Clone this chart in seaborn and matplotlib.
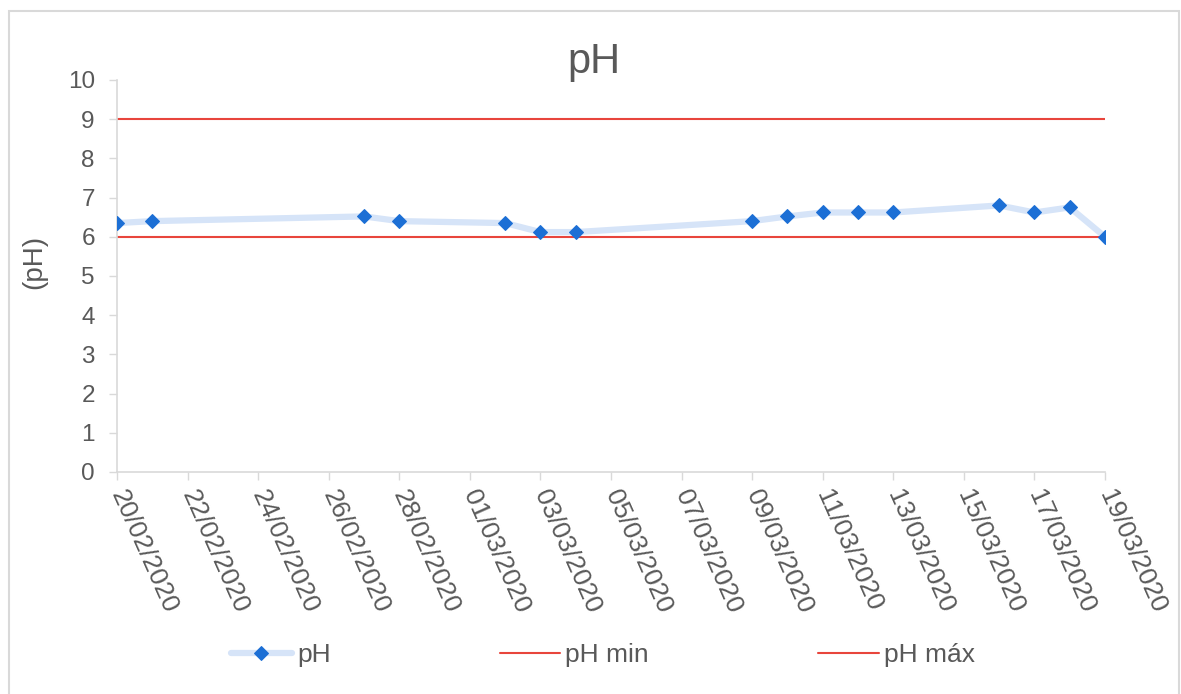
import matplotlib
matplotlib.use("Agg")
import matplotlib.pyplot as plt
import matplotlib.dates as mdates
import matplotlib.patches as mpatches
import seaborn as sns
import pandas as pd

# ---- data ----
dates = ["2020-02-20", "2020-02-21", "2020-02-27", "2020-02-28", "2020-03-02",
         "2020-03-03", "2020-03-04", "2020-03-09", "2020-03-10", "2020-03-11",
         "2020-03-12", "2020-03-13", "2020-03-16", "2020-03-17", "2020-03-18",
         "2020-03-19"]
ph_values = [6.35, 6.4, 6.52, 6.4, 6.35, 6.12, 6.12, 6.4, 6.52, 6.62,
             6.62, 6.62, 6.8, 6.62, 6.75, 6.0]
ph_min = 6
ph_max = 9
title = "pH"
y_label = "(pH)"
series_labels = ["pH", "pH min", "pH máx"]
x_start, x_end = "2020-02-20", "2020-03-19"
y_ticks = [0, 1, 2, 3, 4, 5, 6, 7, 8, 9, 10]

df = pd.DataFrame({"date": pd.to_datetime(dates), "pH": ph_values})

sns.set_theme(style="white")
plt.rcParams["font.family"] = ["Liberation Sans", "DejaVu Sans"]

TXT = "#595959"
GRID = "#d9d9d9"

fig = plt.figure(figsize=(11.81, 6.94), dpi=100)
ax = fig.add_axes([117 / 1181, 1 - 472 / 694, (1105 - 117) / 1181, (472 - 80) / 694])

sns.lineplot(data=df, x="date", y="pH", ax=ax, color="#d6e4f8", linewidth=4.5,
             marker="D", markersize=7, markerfacecolor="#1c6fd5",
             markeredgecolor="#1c6fd5", label=series_labels[0], zorder=3)
ax.axhline(ph_min, color="#e8453c", linewidth=1.5, label=series_labels[1], zorder=2)
ax.axhline(ph_max, color="#e8453c", linewidth=1.5, label=series_labels[2], zorder=2)

ax.set_xlim(pd.Timestamp(x_start), pd.Timestamp(x_end))
ax.set_ylim(0, 10)
ax.set_yticks(y_ticks)
ax.set_xticks(pd.date_range(x_start, x_end, freq="2D"))
ax.xaxis.set_major_formatter(mdates.DateFormatter("%d/%m/%Y"))

for s in ["top", "right"]:
    ax.spines[s].set_visible(False)
for s in ["left", "bottom"]:
    ax.spines[s].set_color(GRID)
    ax.spines[s].set_linewidth(1.2)

ax.tick_params(axis="y", which="major", left=True, length=6, width=1, color=GRID,
               labelsize=17.5, labelcolor=TXT, pad=10)
ax.tick_params(axis="x", which="major", bottom=True, length=6, width=1, color=GRID,
               labelsize=19, labelcolor=TXT, pad=8)
for lbl in ax.get_xticklabels():
    lbl.set_rotation(-66)
    lbl.set_ha("left")
    lbl.set_va("center")
    lbl.set_rotation_mode("anchor")

ax.set_xlabel("")
ax.set_ylabel(y_label, fontsize=20, color=TXT)
ax.yaxis.set_label_coords(-0.071, (472 - 262) / 392)
fig.text(594 / 1181, 1 - 62 / 694, title, fontsize=30, color=TXT, ha="center", va="center")

if ax.get_legend():
    ax.get_legend().remove()
handles, labels = ax.get_legend_handles_labels()
leg = fig.legend(handles, labels, loc="center", bbox_to_anchor=(603 / 1181, 1 - 655 / 694),
                 ncol=3, frameon=False, fontsize=19, handlelength=2.3,
                 handletextpad=0.2, columnspacing=6.4)
for t in leg.get_texts():
    t.set_color(TXT)

# chart border
fig.patches.append(mpatches.Rectangle((9 / 1181, -0.05), (1179 - 9) / 1181, 1.05 - 11 / 694,
                                      transform=fig.transFigure, fill=False,
                                      edgecolor=GRID, linewidth=1.5))

fig.savefig("out.png", dpi=100)
